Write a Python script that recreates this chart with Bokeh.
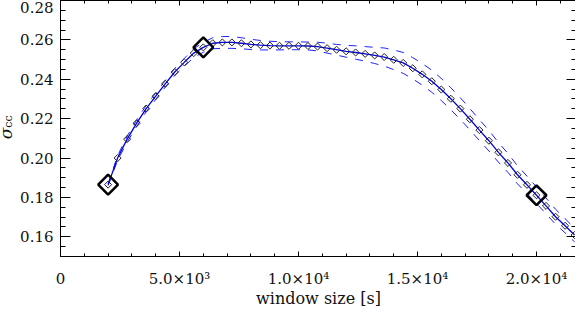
import math
from bokeh.plotting import figure
from bokeh.layouts import row
from bokeh.models import Range1d, FixedTicker, LinearAxis, CustomLabelingPolicy
from bokeh.core.properties import value
from bokeh.embed import file_html
from bokeh.resources import INLINE

# ---- data ----
window_size = [2000, 2400, 2800, 3200, 3600, 4000, 4400, 4800, 5200, 5600,
               6000, 6400, 6800, 7200, 7600, 8000, 8400, 8800, 9200, 9600,
               10000, 10400, 10800, 11200, 11600, 12000, 12400, 12800, 13200, 13600,
               14000, 14400, 14800, 15200, 15600, 16000, 16400, 16800, 17200, 17600,
               18000, 18400, 18800, 19200, 19600, 20000, 20400, 20800, 21200, 21600]
sigma_cc = [0.1865, 0.2000, 0.2096, 0.2177, 0.2251, 0.2314, 0.2377, 0.2437, 0.2486, 0.2533,
            0.2562, 0.2583, 0.2587, 0.2587, 0.2583, 0.2577, 0.2573, 0.2571, 0.2570, 0.2570,
            0.2570, 0.2569, 0.2566, 0.2558, 0.2550, 0.2542, 0.2536, 0.2529, 0.2521, 0.2513,
            0.2499, 0.2483, 0.2456, 0.2425, 0.2390, 0.2348, 0.2301, 0.2251, 0.2197, 0.2142,
            0.2088, 0.2029, 0.1975, 0.1915, 0.1864, 0.1811, 0.1757, 0.1702, 0.1656, 0.1609]
sigma_hi = [0.1870, 0.2012, 0.2111, 0.2193, 0.2267, 0.2330, 0.2394, 0.2455, 0.2506, 0.2555,
            0.2587, 0.2611, 0.2617, 0.2617, 0.2611, 0.2603, 0.2597, 0.2593, 0.2591, 0.2590,
            0.2590, 0.2589, 0.2588, 0.2583, 0.2577, 0.2572, 0.2570, 0.2566, 0.2562, 0.2559,
            0.2549, 0.2536, 0.2510, 0.2480, 0.2446, 0.2404, 0.2357, 0.2306, 0.2251, 0.2195,
            0.2140, 0.2079, 0.2023, 0.1961, 0.1908, 0.1853, 0.1797, 0.1740, 0.1692, 0.1644]
sigma_lo = [0.1860, 0.1988, 0.2081, 0.2161, 0.2235, 0.2298, 0.2360, 0.2419, 0.2466, 0.2511,
            0.2537, 0.2555, 0.2557, 0.2557, 0.2555, 0.2551, 0.2549, 0.2549, 0.2549, 0.2550,
            0.2550, 0.2549, 0.2544, 0.2533, 0.2523, 0.2512, 0.2502, 0.2492, 0.2480, 0.2467,
            0.2449, 0.2430, 0.2402, 0.2370, 0.2334, 0.2292, 0.2245, 0.2196, 0.2143, 0.2089,
            0.2036, 0.1979, 0.1927, 0.1869, 0.1820, 0.1769, 0.1717, 0.1664, 0.1620, 0.1574]
key_window = [2000, 6000, 20000]
key_sigma = [0.1865, 0.2562, 0.1811]

x_ticks = [0, 5000, 10000, 15000, 20000]
x_tick_labels = ["0", "5.0×10³", "1.0×10⁴", "1.5×10⁴", "2.0×10⁴"]
y_ticks = [0.16, 0.18, 0.20, 0.22, 0.24, 0.26, 0.28]
y_tick_labels = ["0.16", "0.18", "0.20", "0.22", "0.24", "0.26", "0.28"]
x_label = "window size [s]"
y_label = "σ"
y_label_sub = "cc"

FONT = "DejaVu Serif"
TXT = "#111111"
x_minor = [1000 * i for i in range(0, 22)]
y_minor = [0.15 + 0.005 * i for i in range(0, 27)]

STRIP_W = 55
y_range = Range1d(0.15, 0.28)

# ---- main plot ----
p = figure(width=576 - STRIP_W, height=310,
           x_range=Range1d(0, 21680), y_range=y_range,
           output_backend="svg", toolbar_location=None,
           min_border_left=5, min_border_right=0, min_border_top=0, min_border_bottom=52)
p.grid.visible = False
p.outline_line_color = None
p.background_fill_color = "white"
p.border_fill_color = "white"

xt = FixedTicker(ticks=x_ticks, minor_ticks=x_minor)
yt = FixedTicker(ticks=y_ticks, minor_ticks=y_minor)

hide_labels = CustomLabelingPolicy(code="""
for (let i = 0; i < indices.size; i++) { indices.unset(i) }
return indices
""")

def style_axis(ax, tin, mtin, labels=True):
    ax.major_tick_in = tin
    ax.major_tick_out = 0
    ax.minor_tick_in = mtin
    ax.minor_tick_out = 0
    ax.axis_line_color = "black"
    ax.major_tick_line_color = "black"
    ax.minor_tick_line_color = "black"
    ax.major_label_text_font = FONT
    ax.major_label_text_font_size = "15px"
    ax.major_label_text_color = TXT
    if not labels:
        ax.major_label_policy = hide_labels
        ax.major_label_text_font_size = "0px"
        ax.major_label_standoff = 0

xa = p.xaxis[0]
xa.ticker = xt
xa.major_label_overrides = dict(zip(x_ticks, x_tick_labels))
style_axis(xa, 5, 3)
xa.major_label_standoff = 13
xa.axis_label = x_label
xa.axis_label_text_font = FONT
xa.axis_label_text_font_size = "16px"
xa.axis_label_text_font_style = "normal"
xa.axis_label_text_color = TXT
xa.axis_label_standoff = -2

ya = p.yaxis[0]
ya.ticker = yt
style_axis(ya, 10, 5, labels=False)

top = LinearAxis(ticker=xt)
style_axis(top, 5, 3, labels=False)
p.add_layout(top, "above")

right = LinearAxis(ticker=yt)
style_axis(right, 10, 5, labels=False)
p.add_layout(right, "right")

# envelope (dashed) and mean curve
p.line(window_size, sigma_hi, line_color="#2020ff", line_width=1, line_dash="8 8")
p.line(window_size, sigma_lo, line_color="#2020ff", line_width=1, line_dash="8 8")
p.line(window_size, sigma_cc, line_color="#0000e0", line_width=1.3)
p.scatter(window_size, sigma_cc, marker="square", angle=math.pi / 4, size=5,
          fill_color=None, line_color="#222222", line_width=1)
p.scatter(key_window, key_sigma, marker="square", angle=math.pi / 4, size=14,
          fill_color=None, line_color="black", line_width=2.5)

# ---- left strip: y tick labels and y-axis title, sharing the y scale ----
s = figure(width=STRIP_W, height=310, x_range=Range1d(0, STRIP_W), y_range=y_range,
           output_backend="svg", toolbar_location=None,
           x_axis_location=None, y_axis_location=None,
           min_border_left=0, min_border_right=0, min_border_top=0, min_border_bottom=52)
s.grid.visible = False
s.outline_line_color = None
s.background_fill_color = "white"
s.border_fill_color = "white"

label_offsets = [7 if v >= y_range.end else 0 for v in y_ticks]
s.text(x=[STRIP_W - 2] * len(y_ticks), y=y_ticks, text=y_tick_labels, y_offset=label_offsets,
       text_font=value(FONT), text_font_size="15px", text_color=TXT,
       text_align="right", text_baseline="middle")
s.text(x=[5.5], y=[0.2125], text=[y_label], angle=math.pi / 2,
       text_font=value(FONT), text_font_size="17px", text_font_style="italic",
       text_color=TXT, text_align="center", text_baseline="middle")
s.text(x=[7.5], y=[0.2185], text=[y_label_sub], angle=math.pi / 2,
       text_font=value(FONT), text_font_size="11px",
       text_color=TXT, text_align="center", text_baseline="middle")

layout = row(s, p)
open("out.html", "w").write(file_html(layout, INLINE))
